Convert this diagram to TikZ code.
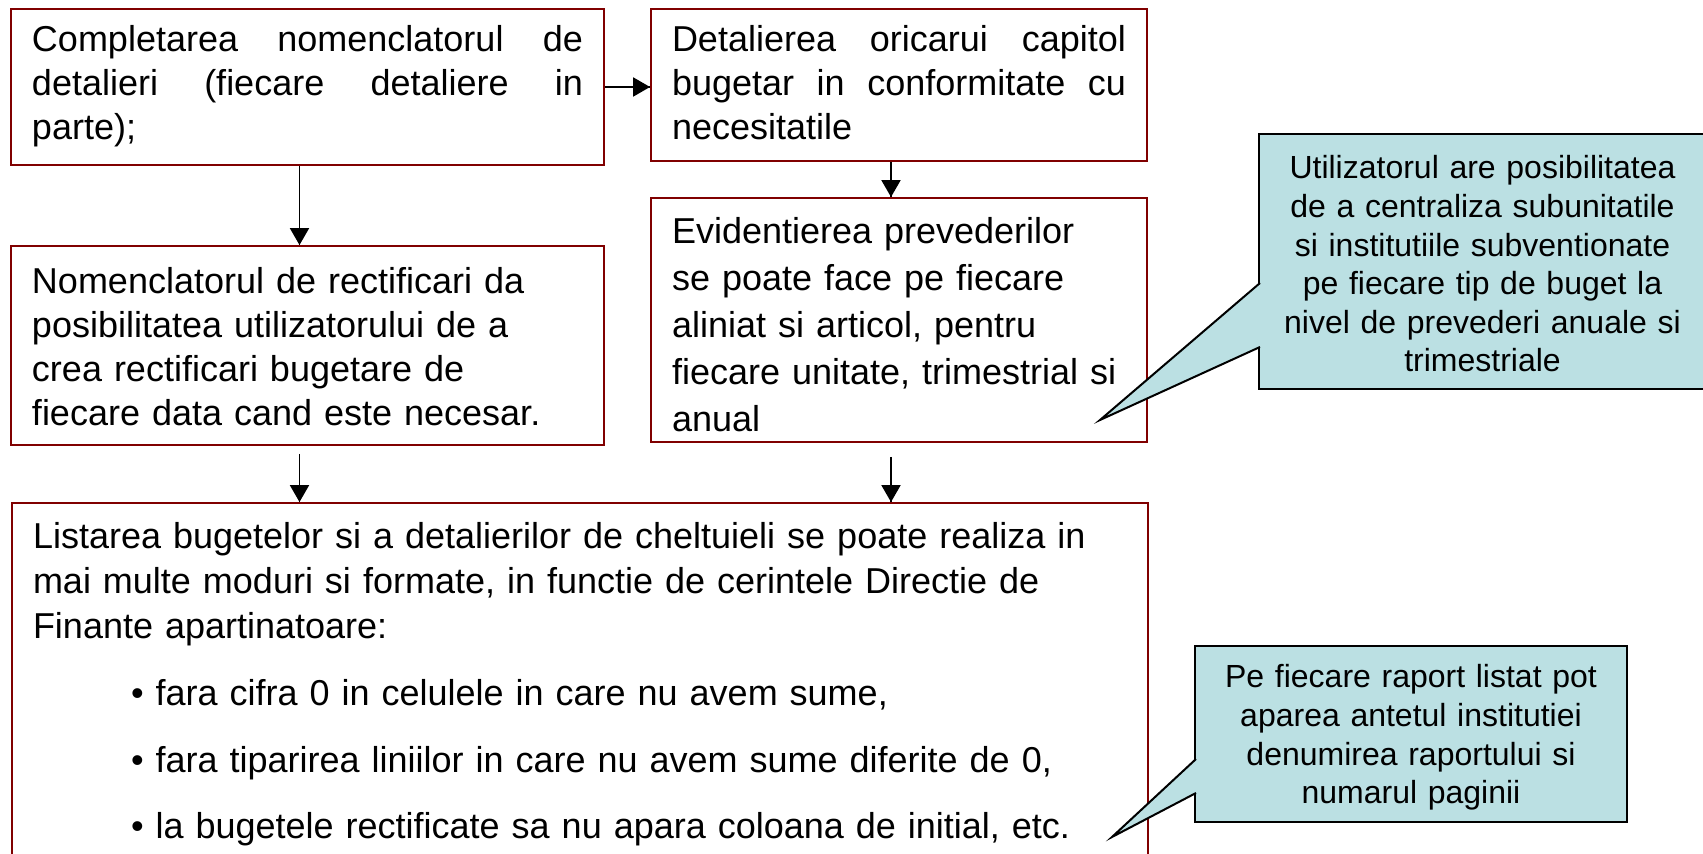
\documentclass[tikz,border=0pt]{standalone}
\usepackage{fontspec}
\setmainfont{Liberation Sans}
\usepackage{tikz}
\usetikzlibrary{shapes,arrows}
\usetikzlibrary{arrows,decorations.markings}
\usetikzlibrary{positioning}
\definecolor{boxColor}{HTML}{800000}
\definecolor{noteColor}{HTML}{BBE0E3}
\tikzstyle{redbox}=[rectangle, draw=boxColor, line width=1pt, inner xsep=10.5pt, inner ysep=0pt, align=left, font=\fontsize{18pt}{22pt}\selectfont]
\tikzstyle{note}=[rectangle, draw=black, line width=1pt, fill=noteColor, text width=205pt, inner ysep=0pt, align=center, font=\fontsize{16pt}{19.3pt}\selectfont]
\tikzstyle{pointer}=[fill=noteColor, draw=black, line width=1pt]
\tikzstyle{arrow} = [line width=0.75pt, decoration={markings,mark=at position 1 with
	{\arrow[scale=1.3]{triangle 60}}},postaction={decorate}]

\begin{document}
\begin{tikzpicture}[x=0.5pt, y=-0.5pt, node distance=100pt]
			\useasboundingbox (0,0) rectangle (1703,854);
			\node (nomenclator) [redbox, text width=275.5pt, text height=21.5pt, text depth=56.5pt] at (307.5,87) {
				\makebox[275.5pt]{Completarea\hfill nomenclatorul\hfill de}\\
				\makebox[275.5pt]{detalieri\hfill (fiecare\hfill detaliere\hfill in}\\
				parte);};
			
			\node (capitol) [redbox, text width=227pt, text height=21.5pt, text depth=54.5pt, right of=nomenclator, xshift=195.75pt, yshift=1pt] {
				\makebox[227pt]{Detalierea\hfill oricarui\hfill capitol}\\
				\makebox[227pt]{bugetar\hfill in\hfill conformitate\hfill cu}\\
				necesitatile};
			
			\node (rectificari) [redbox, text width=275.5pt, text height=24pt, text depth=75.5pt, below of=nomenclator, yshift=-29.25pt] {
				Nomenclatorul de rectificari da\\
				posibilitatea utilizatorului de a\\
				crea rectificari bugetare de\\
				fiecare data cand este necesar.};
			
			\node (prevederi) [redbox, text width=227pt, text height=23pt, text depth=99pt, below of=capitol, yshift=-17.5pt, font=\fontsize{18pt}{23.5pt}\selectfont] {
				Evidentierea prevederilor\\
				se poate face pe fiecare\\
				aliniat si articol, pentru\\
				fiecare unitate, trimestrial si\\
				anual};
			
			\node (listare) [redbox, text width=547pt, text height=23pt, text depth=176pt, anchor=north west, font=\fontsize{18pt}{22.5pt}\selectfont] at (11,502) {
				Listarea bugetelor si a detalierilor de cheltuieli se poate realiza in\\
				mai multe moduri si formate, in functie de cerintele Directie de\\
				Finante apartinatoare:\\[11pt]
				\hspace*{49pt}\textbullet{} fara cifra 0 in celulele in care nu avem sume,\\[10.75pt]
				\hspace*{49pt}\textbullet{} fara tiparirea liniilor in care nu avem sume diferite de 0,\\[10.75pt]
				\hspace*{49pt}\textbullet{} la bugetele rectificate sa nu apara coloana de initial, etc.};
			
			% comentarii (callouts)
			\node (centralizare) [note, minimum width=223.5pt, text height=22.5pt, text depth=105pt] at (1482.5,261.5) {
				Utilizatorul are posibilitatea\\
				de a centraliza subunitatile\\
				si institutiile subventionate\\
				pe fiecare tip de buget la\\
				nivel de prevederi anuale si\\
				trimestriale};
			\coordinate (centralizare tip) at (1100,420);
			\filldraw [pointer] ([xshift=1pt, yshift=-10.75pt]centralizare.west) -- (centralizare tip) -- ([xshift=1pt, yshift=-42.75pt]centralizare.west);
			
			\node (raport) [note, minimum width=216pt, text height=21pt, text depth=67pt] at (1411,734) {
				Pe fiecare raport listat pot\\
				aparea antetul institutiei\\
				denumirea raportului si\\
				numarul paginii};
			\coordinate (raport tip) at (1112,837);
			\filldraw [pointer] ([xshift=1pt, yshift=-12.5pt]raport.west) -- (raport tip) -- ([xshift=1pt, yshift=-29.5pt]raport.west);
			
			\draw [arrow] (nomenclator.east) -- (capitol.west |- nomenclator.east);
			\draw [arrow] ([xshift=-4pt]nomenclator.south) -- ([xshift=-4pt]rectificari.north);
			\draw [arrow] ([xshift=-4pt]capitol.south) -- ([xshift=-4pt]prevederi.north);
			\draw [arrow] ([xshift=-4pt, yshift=-4pt]rectificari.south) -- ([xshift=-4pt]rectificari.south |- listare.north);
			\draw [arrow] ([xshift=-4pt, yshift=-7pt]prevederi.south) -- ([xshift=-4pt]prevederi.south |- listare.north);
			
\end{tikzpicture}
\end{document}
